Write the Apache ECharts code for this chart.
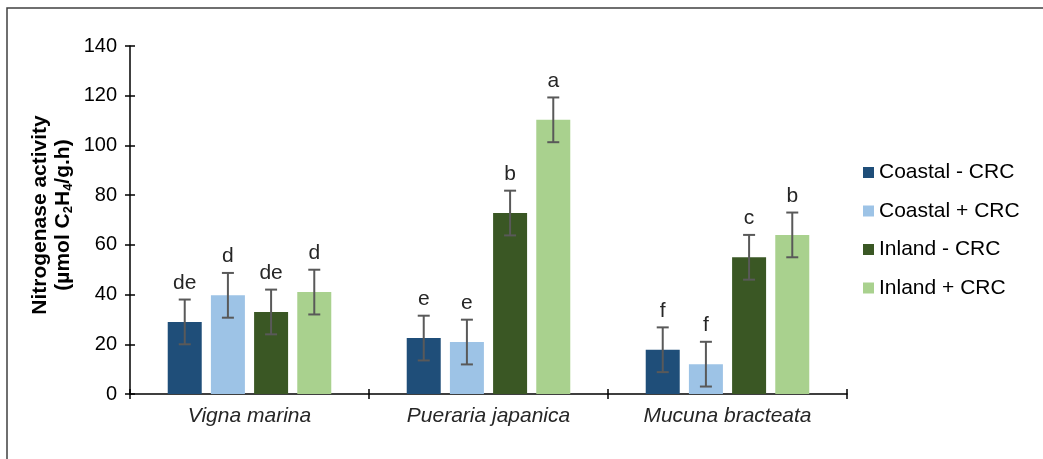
<!DOCTYPE html>
<html>
<head>
<meta charset="utf-8">
<script src="https://cdn.jsdelivr.net/npm/echarts@6/dist/echarts.min.js"></script>
<style>
  html, body { margin: 0; padding: 0; background: #fff; }
  #chart { width: 1043px; height: 459px; }
</style>
</head>
<body>
<div id="chart"></div>
<script>
// Nitrogenase activity of three legumes, coastal vs inland soils, with and without CRC
const categories = ['Vigna marina', 'Pueraria japanica', 'Mucuna bracteata'];
const seriesNames = ['Coastal - CRC', 'Coastal + CRC', 'Inland - CRC', 'Inland + CRC'];

const coastalMinus = [29.0, 22.5, 17.8];
const coastalPlus  = [39.7, 20.9, 12.0];
const inlandMinus  = [33.0, 72.8, 55.0];
const inlandPlus   = [41.0, 110.3, 64.0];

const coastalMinusErr = [9, 9, 9];
const coastalPlusErr  = [9, 9, 9];
const inlandMinusErr  = [9, 9, 9];
const inlandPlusErr   = [9, 9, 9];

const coastalMinusLetters = ['de', 'e', 'f'];
const coastalPlusLetters  = ['d', 'e', 'f'];
const inlandMinusLetters  = ['de', 'b', 'c'];
const inlandPlusLetters   = ['d', 'a', 'b'];

const yTicks = [0, 20, 40, 60, 80, 100, 120, 140];

const values  = [coastalMinus, coastalPlus, inlandMinus, inlandPlus];
const errs    = [coastalMinusErr, coastalPlusErr, inlandMinusErr, inlandPlusErr];
const letters = [coastalMinusLetters, coastalPlusLetters, inlandMinusLetters, inlandPlusLetters];
const colors  = ['#1F4E79', '#9DC3E6', '#3A5724', '#A9D18E'];

const BAR_W = 34;
const BAR_GAP = 0.27;
const FONT = 'Liberation Sans, Arial, sans-serif';
const FS = 20;
const FS_BIG = 21;

const chart = echarts.init(document.getElementById('chart'), null, { renderer: 'canvas' });

const barSeries = values.map((vals, s) => ({
  name: seriesNames[s],
  type: 'bar',
  data: vals,
  barWidth: BAR_W,
  barGap: (BAR_GAP * 100) + '%',
  itemStyle: { color: colors[s] },
  z: 2
}));

// error bars + significance letters, one record per bar
const errData = [];
values.forEach((vals, s) => vals.forEach((v, c) => errData.push([c, v, errs[s][c], s])));

const errSeries = {
  type: 'custom',
  data: errData,
  z: 5,
  silent: true,
  renderItem: function (params, api) {
    const c = api.value(0), v = api.value(1), e = api.value(2), s = api.value(3);
    const n = values.length;
    const center = api.coord([c, v]);
    const off = (s - (n - 1) / 2) * (BAR_W * (1 + BAR_GAP));
    const x = center[0] + off;
    const yTop = api.coord([c, v + e])[1];
    const yBot = api.coord([c, v - e])[1];
    const cap = 6;
    const st = { stroke: '#595959', lineWidth: 2 };
    return {
      type: 'group',
      children: [
        { type: 'line', shape: { x1: x, y1: yTop, x2: x, y2: yBot }, style: st },
        { type: 'line', shape: { x1: x - cap, y1: yTop, x2: x + cap, y2: yTop }, style: st },
        { type: 'line', shape: { x1: x - cap, y1: yBot, x2: x + cap, y2: yBot }, style: st },
        {
          type: 'text',
          style: {
            text: letters[s][c],
            x: x, y: yTop - 6,
            align: 'center', verticalAlign: 'bottom',
            fontFamily: FONT, fontSize: FS_BIG, fill: '#262626'
          }
        }
      ]
    };
  }
};

const tickStyle = { color: '#000', width: 1.5 };

const option = {
  animation: false,
  backgroundColor: '#fff',
  grid: { left: 130, right: 196, top: 46, bottom: 65 },
  legend: {
    data: seriesNames,
    orient: 'vertical',
    left: 858,
    top: 157,
    itemWidth: 11,
    itemHeight: 11,
    itemGap: 17.5,
    icon: 'rect',
    textStyle: { fontFamily: FONT, fontSize: FS_BIG, color: '#000' }
  },
  xAxis: [
    {
      type: 'category',
      data: categories,
      position: 'bottom',
      axisLine: { lineStyle: tickStyle },
      axisTick: { show: true, length: 5, lineStyle: tickStyle },
      axisLabel: { margin: 12, fontFamily: FONT, fontSize: FS_BIG, fontStyle: 'italic', color: '#262626' },
      splitLine: { show: false }
    },
    {
      type: 'category',
      data: categories,
      position: 'bottom',
      axisLine: { show: false },
      axisTick: { show: true, inside: true, length: 5, lineStyle: tickStyle },
      axisLabel: { show: false },
      splitLine: { show: false }
    }
  ],
  yAxis: [
    {
      type: 'value',
      min: yTicks[0], max: yTicks[yTicks.length - 1], interval: yTicks[1] - yTicks[0],
      position: 'left',
      axisLine: { show: true, lineStyle: tickStyle },
      axisTick: { show: true, length: 5, lineStyle: tickStyle },
      axisLabel: { margin: 13, fontFamily: FONT, fontSize: FS, color: '#000' },
      splitLine: { show: false }
    },
    {
      type: 'value',
      min: yTicks[0], max: yTicks[yTicks.length - 1], interval: yTicks[1] - yTicks[0],
      position: 'left',
      axisLine: { show: false },
      axisTick: { show: true, inside: true, length: 5, lineStyle: tickStyle },
      axisLabel: { show: false },
      splitLine: { show: false }
    }
  ],
  graphic: [
    {
      type: 'rect',
      shape: { x: 7, y: 8, width: 1200, height: 600 },
      style: { fill: 'none', stroke: '#404040', lineWidth: 1.5 },
      silent: true, z: -10
    },
    {
      type: 'text',
      x: 52, y: 215,
      rotation: Math.PI / 2,
      style: {
        text: '{b|Nitrogenase activity}\n{b|(µmol C}{s|2}{b|H}{s|4}{b|/g.h)}',
        align: 'center', verticalAlign: 'middle',
        fill: '#000',
        rich: {
          b: { fontFamily: FONT, fontSize: FS_BIG, fontWeight: 'bold', lineHeight: 23, fill: '#000' },
          s: { fontFamily: FONT, fontSize: 13, fontWeight: 'bold', lineHeight: 13, fill: '#000', verticalAlign: 'bottom' }
        }
      }
    }
  ],
  series: barSeries.concat([errSeries])
};

chart.setOption(option);
</script>
</body>
</html>
